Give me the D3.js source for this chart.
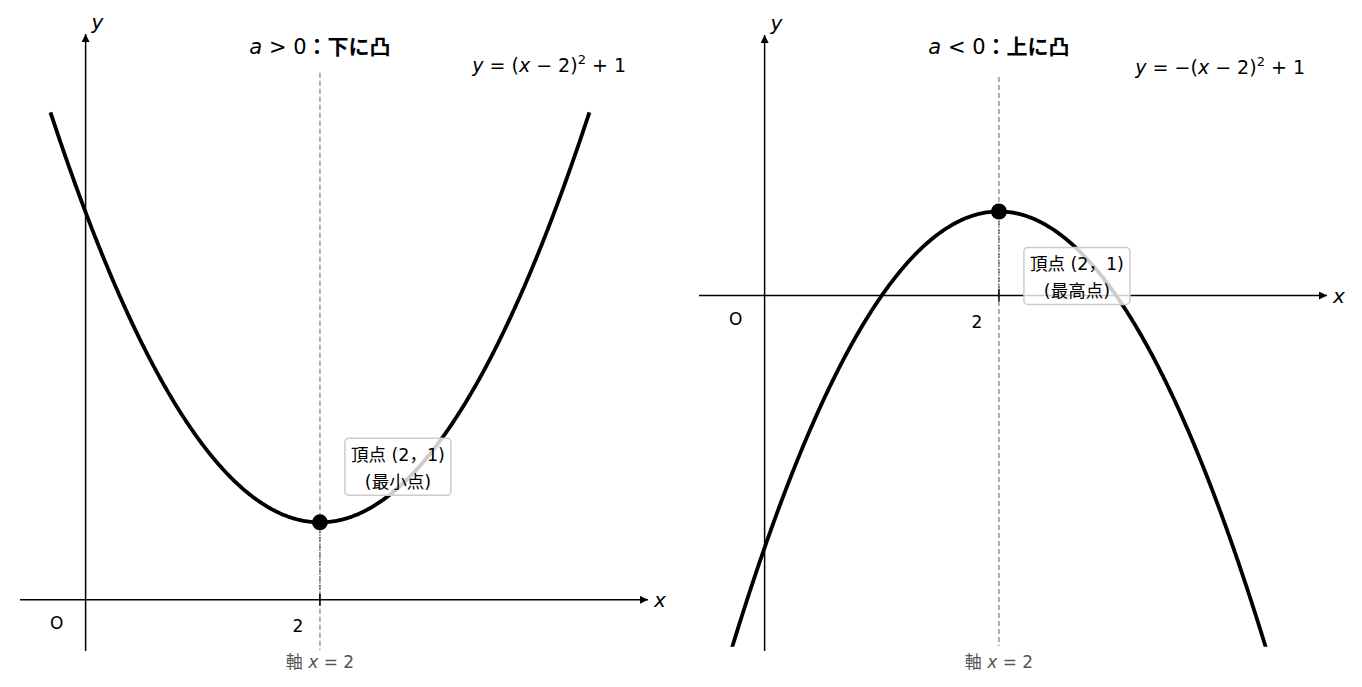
<!DOCTYPE html>
<html>
<head>
<meta charset="utf-8">
<script src="https://cdn.jsdelivr.net/npm/d3@7"></script>
<style>
body { margin: 0; background: #fff; }
svg { font-family: "DejaVu Sans", "Noto Sans CJK JP", sans-serif; }
</style>
</head>
<body>
<svg width="1362" height="687"></svg>
<script>
// chart values
const coefA = [1, -1];               // y = a(x - 2)^2 + 1
const vertex = [2, 1];
const relations = [">", "<"];
const shapeNames = ["下に凸", "上に凸"];
const eqSigns = ["", "−"];
const vertexNotes = ["(最小点)", "(最高点)"];
const vertexLabel = "頂点 (2，1)";
const curveX = [-0.3, 4.3];
const xDomain = [-0.56, 4.8];
const yDomains = [[-0.66, 7.3], [-4.23, 3.1]];
const symLine = [[-0.65, 6.8], [-4.17, 2.6]];
const curveFloor = [-0.66, -4.18];
const tickValue = 2;
const axisNote = "軸";

const svg = d3.select("svg");

// layout per panel (pixels)
const layouts = [
    { left: 20, right: 648, top: 34, bottom: 651, boxDx: 78, boxDy: -55 },
    { left: 699, right: 1327, top: 35, bottom: 651, boxDx: 78, boxDy: 65 }
];

const defs = svg.append("defs");
defs.append("marker")
    .attr("id", "arrow")
    .attr("viewBox", "0 0 10 10")
    .attr("refX", 10).attr("refY", 5)
    .attr("markerWidth", 10).attr("markerHeight", 8)
    .attr("markerUnits", "userSpaceOnUse")
    .attr("orient", "auto")
    .append("path")
    .attr("d", "M0,0 L10,5 L0,10 Z")
    .attr("fill", "#000");

// writes a text made of styled pieces
function rich(sel, parts) {
    parts.forEach(p => {
        const t = sel.append("tspan").text(p.t);
        if (p.i) t.attr("font-style", "italic");
        if (p.b) t.attr("font-weight", "bold");
        if (p.fs) t.attr("font-size", p.fs);
        if (p.dy) t.attr("dy", p.dy);
    });
    return sel;
}

coefA.forEach((a, i) => {
    const L = layouts[i];
    const x = d3.scaleLinear().domain(xDomain).range([L.left, L.right]);
    const y = d3.scaleLinear().domain(yDomains[i]).range([L.bottom, L.top]);
    const g = svg.append("g");

    // clip for the curve
    defs.append("clipPath").attr("id", "clip" + i)
        .append("rect")
        .attr("x", L.left).attr("y", 0)
        .attr("width", L.right - L.left)
        .attr("height", y(curveFloor[i]));

    // axes
    g.append("line")
        .attr("x1", x(xDomain[0])).attr("x2", x(xDomain[1]))
        .attr("y1", y(0)).attr("y2", y(0))
        .attr("stroke", "#000").attr("stroke-width", 1.5)
        .attr("marker-end", "url(#arrow)");
    g.append("line")
        .attr("x1", x(0)).attr("x2", x(0))
        .attr("y1", y(yDomains[i][0])).attr("y2", y(yDomains[i][1]))
        .attr("stroke", "#000").attr("stroke-width", 1.5)
        .attr("marker-end", "url(#arrow)");

    g.append("text")
        .attr("x", x(xDomain[1]) + 6).attr("y", y(0) + 7)
        .attr("font-size", 20).attr("font-style", "italic")
        .text("x");
    g.append("text")
        .attr("x", x(0) + 6).attr("y", L.top - 5)
        .attr("font-size", 20).attr("font-style", "italic")
        .text("y");

    // axis of symmetry
    g.append("line")
        .attr("x1", x(vertex[0])).attr("x2", x(vertex[0]))
        .attr("y1", y(symLine[i][1])).attr("y2", y(symLine[i][0]))
        .attr("stroke", "#888").attr("stroke-width", 1.3)
        .attr("stroke-dasharray", "5,3");

    // vertex to x-axis
    g.append("line")
        .attr("x1", x(vertex[0])).attr("x2", x(vertex[0]))
        .attr("y1", y(vertex[1])).attr("y2", y(0))
        .attr("stroke", "#333").attr("stroke-width", 1)
        .attr("stroke-dasharray", "1.5,1.5");

    // tick at x = 2
    g.append("line")
        .attr("x1", x(tickValue)).attr("x2", x(tickValue))
        .attr("y1", y(0) - 6).attr("y2", y(0) + 6)
        .attr("stroke", "#000").attr("stroke-width", 1.5);
    g.append("text")
        .attr("x", x(tickValue) - 22).attr("y", y(0) + 32)
        .attr("font-size", 17).attr("text-anchor", "middle")
        .text(tickValue);
    g.append("text")
        .attr("x", x(0) - 29).attr("y", y(0) + 29)
        .attr("font-size", 17).attr("text-anchor", "middle")
        .text("O");

    // the parabola
    const pts = d3.range(curveX[0], curveX[1] + 1e-9, 0.01)
        .map(v => [v, a * (v - vertex[0]) ** 2 + vertex[1]]);
    g.append("path")
        .datum(pts)
        .attr("clip-path", `url(#clip${i})`)
        .attr("fill", "none")
        .attr("stroke", "#000").attr("stroke-width", 3.8)
        .attr("d", d3.line().x(d => x(d[0])).y(d => y(d[1])));

    g.append("circle")
        .attr("cx", x(vertex[0])).attr("cy", y(vertex[1]))
        .attr("r", 8).attr("fill", "#000");

    // vertex annotation
    const bx = x(vertex[0]) + L.boxDx, by = y(vertex[1]) + L.boxDy;
    g.append("rect")
        .attr("x", bx - 53).attr("y", by - 29)
        .attr("width", 106).attr("height", 57)
        .attr("rx", 4)
        .attr("fill", "#fff").attr("fill-opacity", 0.8)
        .attr("stroke", "#ccc").attr("stroke-width", 1.5);
    g.append("text")
        .attr("x", bx).attr("y", by - 6)
        .attr("font-size", 17.5).attr("text-anchor", "middle")
        .text(vertexLabel);
    g.append("text")
        .attr("x", bx).attr("y", by + 21)
        .attr("font-size", 17.5).attr("text-anchor", "middle")
        .text(vertexNotes[i]);

    // title
    rich(g.append("text")
        .attr("x", x(vertex[0])).attr("y", 54)
        .attr("font-size", 21).attr("text-anchor", "middle"),
        [{ t: "a", i: true }, { t: " " + relations[i] + " 0" }, { t: "：", b: true }, { t: shapeNames[i], b: true }]);

    // equation
    rich(g.append("text")
        .attr("x", x(xDomain[1]) - 22).attr("y", 72 + i * 2)
        .attr("font-size", 19).attr("text-anchor", "end"),
        [{ t: "y", i: true }, { t: " = " + eqSigns[i] + "(" }, { t: "x", i: true }, { t: " − 2)" },
         { t: "2", fs: 13, dy: -8 }, { t: " + 1", dy: 8 }]);

    // axis note
    rich(g.append("text")
        .attr("x", x(vertex[0])).attr("y", 668)
        .attr("font-size", 17).attr("text-anchor", "middle")
        .attr("fill", "#555"),
        [{ t: axisNote + " " }, { t: "x", i: true }, { t: " = " + vertex[0] }]);
});
</script>
</body>
</html>
